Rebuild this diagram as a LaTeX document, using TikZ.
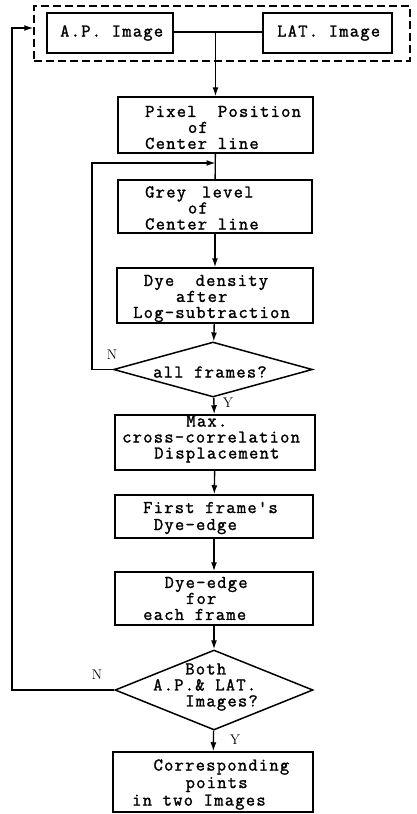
\documentclass[tikz,border=0pt]{standalone}
\usepackage{fontspec}
\setmonofont{Latin Modern Mono}[LetterSpace=7,FakeBold=1.5]
\usetikzlibrary{arrows.meta,shapes.geometric}
\newlength\chw \setlength\chw{10.7pt}
\newcommand\hs[1]{\hspace*{#1\chw}}
\begin{document}
\begin{tikzpicture}[x=1pt,y=-1pt,
  box/.style={draw, line width=1.5pt, rectangle, inner sep=0pt},
  dia/.style={draw, line width=1.5pt, shape=diamond, inner sep=0pt},
  grp/.style={draw, line width=1.5pt, dash pattern=on 8pt off 4pt, inner sep=0pt},
  txt/.style={anchor=west, align=left, inner sep=0pt, font=\fontsize{18}{16}\selectfont\ttfamily},
  ln/.style={line width=1.4pt},
  arr/.style={line width=1.4pt, -{Latex[length=9pt,width=6pt]}},
  yn/.style={inner sep=0pt, font=\fontsize{14}{14}\selectfont\rmfamily}]
\useasboundingbox (0,0) rectangle (417,814);

% boxes
\node[grp, minimum width=376pt, minimum height=55pt] (grp) at (222,33.5) {};
\node[box, minimum width=126pt, minimum height=40pt] (ap) at (110,33) {};
\node[box, minimum width=129pt, minimum height=40pt] (lat) at (327.5,33) {};
\node[box, minimum width=195pt, minimum height=56pt] (pix) at (215.5,125) {};
\node[box, minimum width=194pt, minimum height=53pt] (grey) at (215,206.5) {};
\node[box, minimum width=196pt, minimum height=55pt] (dye) at (215,295.5) {};
\node[dia, minimum width=199pt, minimum height=55pt] (d1) at (213,369.5) {};
\node[box, minimum width=200pt, minimum height=55pt] (max) at (215,442.5) {};
\node[box, minimum width=198pt, minimum height=43pt] (first) at (214,516.5) {};
\node[box, minimum width=198pt, minimum height=53pt] (dedge) at (214,598.5) {};
\node[dia, minimum width=198pt, minimum height=80pt] (d2) at (214,690) {};
\node[box, minimum width=200pt, minimum height=60pt] (corr) at (213,782) {};

% texts
\node[txt] (tap) at (60,33) {A.P.\hs{1}Image};
\node[txt] (tlat) at (277,33) {LAT.\hs{1}Image};
\node[txt] (tpix) at (145,127.5) {Pixel\hs{2}Position\\\hs{4}of\\Center\hs{1}line};
\node[txt] (tgrey) at (145,208) {Grey\hs{1.5}level\\\hs{4}of\\Center\hs{1}line};
\node[txt] (tdye) at (133,298.5) {\hs{1}Dye\hs{2}density\\\hs{4}after\\Log-subtraction};
\node[txt] (td1) at (153,372) {all\hs{1}frames?};
\node[txt] (tmax) at (122,439) {\hs{6}Max.\\cross-correlation\\\hs{3}Displacement};
\node[txt, font=\fontsize{18}{17}\selectfont\ttfamily] (tfirst) at (143,518) {First\hs{1}frame's\\\hs{1}Dye-edge};
\node[txt] (tdedge) at (143,598.5) {\hs{2}Dye-edge\\\hs{4}for\\each\hs{1}frame};
\node[txt] (td2) at (153,687) {\hs{3}Both\\A.P.\&\hs{1}LAT.\\\hs{3}Images?};
\node[txt, font=\fontsize{18}{17.5}\selectfont\ttfamily] (tcorr) at (132,784.5) {\hs{2}Corresponding\\\hs{5}points\\in\hs{1}two\hs{1}Images};

% labels
\node[yn] (n1) at (112,355) {N};
\node[yn] (y1) at (228,403) {Y};
\node[yn] (n2) at (97,675) {N};
\node[yn] (y2) at (235,740) {Y};

% connectors
\coordinate (j0) at (pix.north |- 0,32);
\draw[ln] (ap.east |- j0) -- (lat.west |- j0);
\draw[arr] (j0) -- (pix.north);
\draw[ln] (pix) -- (grey);
\draw[arr] (grey) -- (dye);
\draw[arr] (dye) -- (d1);
\draw[arr] (d1) -- (max);
\draw[arr] (max) -- (first);
\draw[arr] (first) -- (dedge);
\draw[arr] (dedge) -- (d2);
\draw[arr] (d2) -- (corr);
\coordinate (l1) at (92,163);
\draw[arr] (d1.west) -- (d1.west -| l1) -- (l1) -- (l1 -| pix.south);
\coordinate (l2) at (12,28);
\draw[arr] (d2.west) -- (d2.west -| l2) -- (l2) -- (l2 -| grp.west);
\end{tikzpicture}
\end{document}
